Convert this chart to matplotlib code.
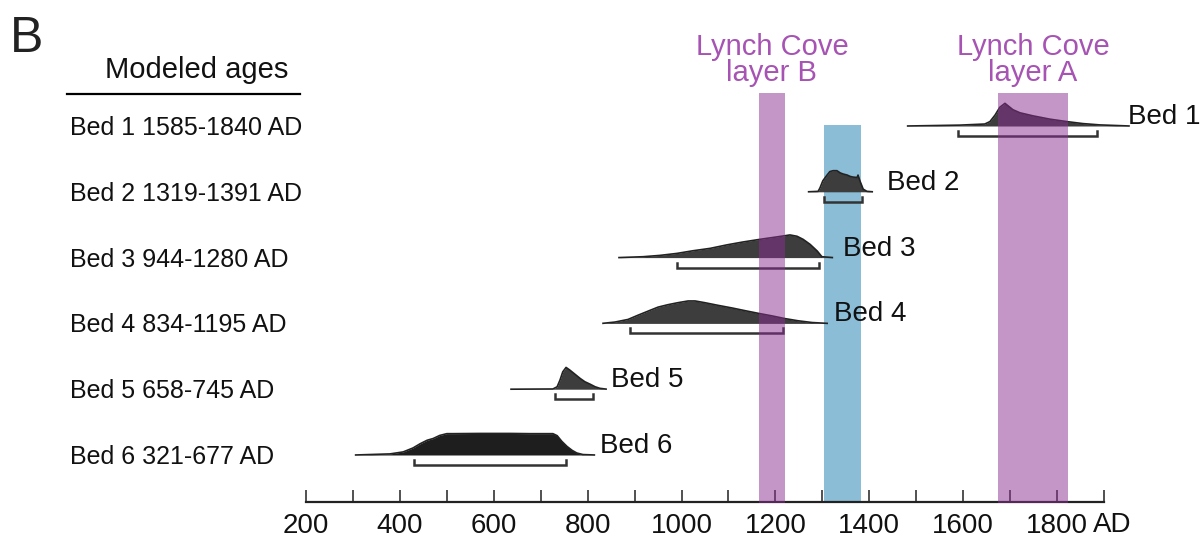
import matplotlib
matplotlib.use("Agg")
import matplotlib.pyplot as plt
from matplotlib.patches import Rectangle

plt.rcParams['font.family'] = ['Liberation Sans', 'DejaVu Sans']

# ---- data -------------------------------------------------------------
bed_names = ["Bed 1", "Bed 2", "Bed 3", "Bed 4", "Bed 5", "Bed 6"]
modeled_ages = ["1585-1840 AD", "1319-1391 AD", "944-1280 AD",
                "834-1195 AD", "658-745 AD", "321-677 AD"]

# Modeled age probability distributions (calendar year, relative density)
bed1_years = [1480, 1593, 1646, 1657, 1668, 1678, 1689, 1706, 1721, 1749,
              1785, 1821, 1855, 1891, 1955]
bed1_dens = [0.0, 0.04, 0.09, 0.2, 0.5, 0.85, 1.03, 0.74, 0.6, 0.46,
             0.31, 0.2, 0.11, 0.05, 0.0]

bed2_years = [1269, 1291, 1295, 1301, 1310, 1316, 1323, 1331, 1338, 1344,
              1353, 1359, 1365, 1374, 1376, 1380, 1387, 1395, 1408]
bed2_dens = [0.0, 0.02, 0.18, 0.5, 0.76, 0.92, 0.96, 0.96, 0.86, 0.81,
             0.76, 0.7, 0.67, 0.65, 0.76, 0.5, 0.12, 0.02, 0.0]

bed3_years = [865, 918, 954, 990, 1024, 1061, 1097, 1131, 1167, 1203,
              1231, 1246, 1259, 1274, 1289, 1299, 1323]
bed3_dens = [0.0, 0.04, 0.1, 0.19, 0.31, 0.42, 0.58, 0.71, 0.83, 0.94,
             1.03, 0.97, 0.83, 0.6, 0.3, 0.04, 0.0]

bed4_years = [831, 858, 886, 907, 929, 950, 971, 992, 1014, 1029, 1050,
              1078, 1108, 1135, 1163, 1193, 1220, 1248, 1278, 1312]
bed4_dens = [0.0, 0.06, 0.18, 0.37, 0.56, 0.74, 0.85, 0.94, 1.02, 1.02,
             0.94, 0.82, 0.7, 0.58, 0.46, 0.34, 0.22, 0.12, 0.04, 0.0]

bed5_years = [635, 726, 735, 741, 747, 754, 762, 773, 784, 794, 805, 816,
              826, 841]
bed5_dens = [0.0, 0.01, 0.11, 0.41, 0.79, 0.99, 0.87, 0.68, 0.49, 0.34,
             0.23, 0.11, 0.04, 0.0]

bed6_years = [304, 379, 407, 428, 443, 458, 471, 485, 500, 513, 571, 635,
              677, 726, 735, 745, 756, 767, 777, 790, 816]
bed6_dens = [0.0, 0.05, 0.14, 0.32, 0.51, 0.67, 0.75, 0.89, 0.97, 0.97,
             0.98, 0.98, 0.97, 0.97, 0.88, 0.62, 0.39, 0.21, 0.09, 0.02, 0.0]

bed_years = [bed1_years, bed2_years, bed3_years, bed4_years, bed5_years, bed6_years]
bed_dens = [bed1_dens, bed2_dens, bed3_dens, bed4_dens, bed5_dens, bed6_dens]

# Age range brackets under each distribution
range_lo = [1589, 1303, 990, 890, 730, 430]
range_hi = [1885, 1384, 1293, 1216, 811, 754]

# Lynch Cove layers (year spans)
layer_b_span = (1165, 1220)
layer_a_span = (1674, 1823)
blue_span = (1303, 1382)

tick_years = list(range(200, 2000, 100))
tick_labels = ["200", "", "400", "", "600", "", "800", "", "1000", "",
               "1200", "", "1400", "", "1600", "", "1800", ""]
axis_unit = "AD"

# ---- layout -----------------------------------------------------------
W, H = 1202, 539
fig = plt.figure(figsize=(W / 100, H / 100), dpi=100)
axis_y = 502
ax = fig.add_axes([306 / W, (H - axis_y) / H, (1104 - 306) / W, axis_y / H])
ax.set_xlim(200, 1900)
ax.set_ylim(axis_y, 0)
for s in ("left", "right", "top"):
    ax.spines[s].set_visible(False)
ax.spines["bottom"].set_linewidth(1.6)
ax.spines["bottom"].set_color("#222222")
ax.set_yticks([])
ax.set_xticks(tick_years)
ax.set_xticklabels(tick_labels)
ax.tick_params(axis="x", direction="in", length=8.5, width=1.1,
               colors="#222222", labelsize=20, pad=8, labelcolor="#111111")
# unit label next to the last tick
ax.text(1877, axis_y + 23, axis_unit, fontsize=20, ha="left", va="center",
        color="#111111", clip_on=False)

row0, row_step = 126, 65.8
peak_px = 22
dark = "#3d3d3d"
purple = "#8b2f93"
label_purple = "#a653b3"

# Blue band sits behind the distributions
ax.add_patch(Rectangle((blue_span[0], 125), blue_span[1] - blue_span[0],
                       axis_y - 125, facecolor="#8bbdd6", edgecolor="none",
                       zorder=1))

label_x = [1951, 1438, 1344, 1325, 850, 826]
for i in range(6):
    base = row0 + row_step * i
    xs = bed_years[i]
    ys = [base - d * peak_px for d in bed_dens[i]]
    col = "#1e1e1e" if i == 5 else dark
    ax.fill_between(xs, base, ys, color=col, lw=0, zorder=2, clip_on=False)
    ax.plot(xs, ys, color="#222222", lw=1.2, zorder=2.1, clip_on=False,
            solid_capstyle="butt")
    # range bracket
    yb = base + 10
    ax.plot([range_lo[i], range_lo[i], range_hi[i], range_hi[i]],
            [yb - 5, yb, yb, yb - 5], color="#333333", lw=1.8, zorder=2.2,
            clip_on=False, solid_joinstyle="miter")
    # label at the distribution
    ax.text(label_x[i], base - 9, bed_names[i], fontsize=20, va="center",
            ha="left", color="#111111", zorder=5, clip_on=False)
    # modeled age list on the left
    fig.text(70 / W, 1 - (base + 2) / H, f"{bed_names[i]} {modeled_ages[i]}",
             fontsize=18, va="center", ha="left", color="#111111")

# Purple layer bands drawn translucently over the distributions
for span in (layer_b_span, layer_a_span):
    ax.add_patch(Rectangle((span[0], 93), span[1] - span[0], axis_y - 93 + 1,
                           facecolor=purple, alpha=0.5, edgecolor="none",
                           zorder=3, clip_on=False))

for span, name in ((layer_b_span, "Lynch Cove\nlayer B"),
                   (layer_a_span, "Lynch Cove\nlayer A")):
    ax.text(sum(span) / 2, 60, name, ha="center", va="center", fontsize=21,
            color=label_purple, linespacing=0.92, clip_on=False)

# Header of the modeled ages column
fig.text(197 / W, 1 - 70 / H, "Modeled ages", fontsize=21, ha="center",
         va="center", color="#111111")
fig.add_artist(plt.Line2D([67 / W, 300 / W], [1 - 94 / H, 1 - 94 / H],
                          color="black", lw=1.6))
fig.text(10 / W, 1 - 39 / H, "B", fontsize=36, ha="left", va="center",
         color="#222222")

fig.savefig("out.png", dpi=100)
